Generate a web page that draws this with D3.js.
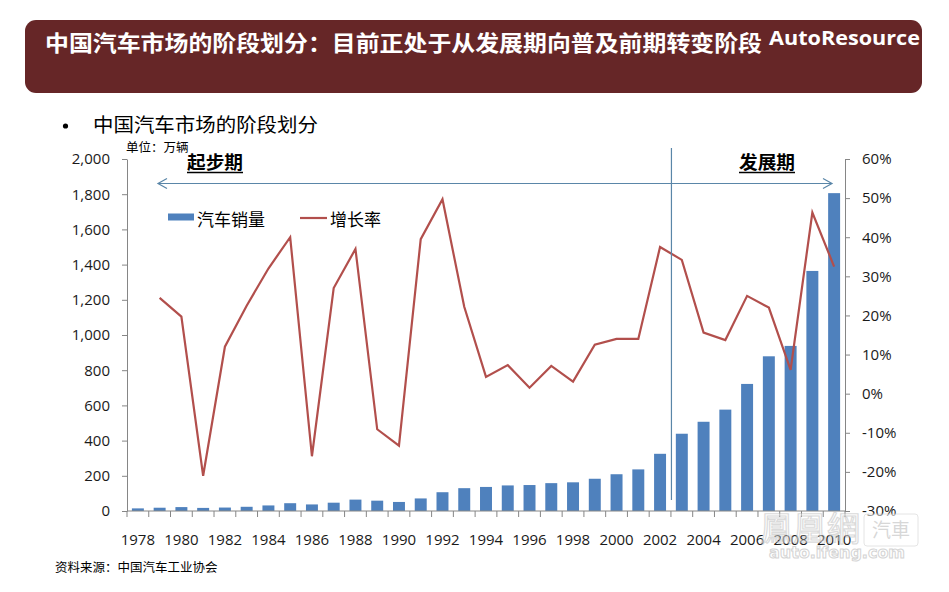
<!DOCTYPE html>
<html>
<head>
<meta charset="utf-8">
<script src="https://cdn.jsdelivr.net/npm/d3@7/dist/d3.min.js"></script>
<style>
  html, body { margin: 0; padding: 0; background: #fff; }
  svg { display: block; }
  text { font-family: "Noto Sans CJK SC", "Noto Sans", sans-serif; }
</style>
</head>
<body>
<svg id="chart" width="949" height="592"></svg>
<script>
// ---- data ----
const years = ["1978","1979","1980","1981","1982","1983","1984","1985","1986","1987","1988","1989","1990","1991","1992","1993","1994","1995","1996","1997","1998","1999","2000","2001","2002","2003","2004","2005","2006","2007","2008","2009","2010"];
const sales = [14.9,18.6,22.2,17.6,19.6,23.9,31.6,44.3,37.3,47.2,64.7,58.7,51.4,71.4,106.7,129.7,136.7,145.3,147.5,158.3,163.0,183.2,208.9,236.4,325.0,439.0,507.0,576.0,722.0,879.0,938.0,1364.0,1806.0];
const growth = [null,24.5,19.7,-21.0,12.0,22.5,32.0,40.0,-16.0,27.0,37.0,-9.1,-13.3,39.5,49.7,22.2,4.3,7.3,1.5,7.1,3.1,12.5,14.0,14.0,37.5,34.2,15.6,13.7,25.0,22.0,6.1,46.3,32.5];
const leftTicks = [0,200,400,600,800,1000,1200,1400,1600,1800,2000];
const rightTicks = [-30,-20,-10,0,10,20,30,40,50,60];
const xLabelYears = ["1978","1980","1982","1984","1986","1988","1990","1992","1994","1996","1998","2000","2002","2004","2006","2008","2010"];
const title = "中国汽车市场的阶段划分：目前正处于从发展期向普及前期转变阶段";
const brand = "AutoResource";
const subtitle = "中国汽车市场的阶段划分";
const unitLabel = "单位：万辆";
const seriesNames = ["汽车销量", "增长率"];
const phaseNames = ["起步期", "发展期"];
const phaseSplit = "2003";
const source = "资料来源：中国汽车工业协会";

// ---- layout ----
const svg = d3.select("#chart");
const L = 127, R = 845, T = 159, B = 511;
const barColor = "#4f81bd", lineColor = "#b24f4c", axisColor = "#868686", arrowColor = "#5a86a8";

// title bar
svg.append("rect").attr("x", 25).attr("y", 20).attr("width", 897).attr("height", 73)
  .attr("rx", 11).attr("fill", "#662627");
svg.append("text").attr("x", 45).attr("y", 51).attr("fill", "#fff")
  .attr("font-size", 22).attr("font-weight", "bold")
  .attr("textLength", 717).attr("lengthAdjust", "spacingAndGlyphs").text(title);
svg.append("text").attr("x", 769).attr("y", 45).attr("fill", "#fff")
  .style("font-family", "'Open Sans', 'Liberation Sans', sans-serif")
  .attr("font-size", 20).attr("font-weight", "bold")
  .attr("textLength", 151).attr("lengthAdjust", "spacingAndGlyphs").text(brand);

// bullet subtitle
svg.append("circle").attr("cx", 65.5).attr("cy", 126).attr("r", 2.6).attr("fill", "#000");
svg.append("text").attr("x", 93).attr("y", 132).attr("font-size", 19)
  .attr("textLength", 225).attr("lengthAdjust", "spacingAndGlyphs").attr("fill", "#000").text(subtitle);

// scales
const x = d3.scaleBand().domain(years).range([L, R]).paddingInner(0.45).paddingOuter(0.225);
const xEdge = d3.scaleBand().domain(years).range([L, R]).padding(0);
const yL = d3.scaleLinear().domain([0, 2000]).range([B, T]);
const yR = d3.scaleLinear().domain([-30, 60]).range([B, T]);

const tickFont = "'Open Sans', 'DejaVu Sans', sans-serif";

// left axis
const gL = svg.append("g").attr("transform", `translate(${L},0)`)
  .call(d3.axisLeft(yL).tickValues(leftTicks).tickSize(5).tickSizeOuter(0).tickPadding(12).tickFormat(d3.format(",")));
// right axis
const gR = svg.append("g").attr("transform", `translate(${R},0)`)
  .call(d3.axisRight(yR).tickValues(rightTicks).tickSize(5).tickSizeOuter(0).tickPadding(12).tickFormat(d => d + "%"));
[gL, gR].forEach(g => {
  g.select(".domain").attr("stroke", axisColor);
  g.selectAll(".tick line").attr("stroke", axisColor);
  g.selectAll(".tick text").attr("fill", "#1a1a1a").attr("font-size", 15).style("font-family", tickFont);
});

// bars
svg.append("g").selectAll("rect").data(years).join("rect")
  .attr("x", d => x(d)).attr("width", x.bandwidth())
  .attr("y", (d, i) => yL(sales[i])).attr("height", (d, i) => B - yL(sales[i]))
  .attr("fill", barColor);

// x axis
const gX = svg.append("g").attr("transform", `translate(0,${B})`);
gX.append("line").attr("x1", L).attr("x2", R).attr("stroke", axisColor);
gX.selectAll("line.tk").data(years.concat(["end"])).join("line").attr("class", "tk")
  .attr("x1", (d, i) => i < years.length ? xEdge(d) : R)
  .attr("x2", (d, i) => i < years.length ? xEdge(d) : R)
  .attr("y1", 0).attr("y2", 6).attr("stroke", axisColor);
gX.selectAll("text").data(xLabelYears).join("text")
  .attr("x", d => x(d) + x.bandwidth() / 2).attr("y", 34)
  .attr("text-anchor", "middle").attr("font-size", 15).attr("fill", "#1a1a1a")
  .style("font-family", tickFont).text(d => d);

// growth line
const line = d3.line()
  .defined(d => d.v !== null)
  .x(d => x(d.y) + x.bandwidth() / 2)
  .y(d => yR(d.v));
svg.append("path").datum(years.map((y, i) => ({ y, v: growth[i] })))
  .attr("d", line).attr("fill", "none").attr("stroke", lineColor).attr("stroke-width", 2.2)
  .attr("stroke-linejoin", "miter");

// phase divider
const splitX = xEdge(phaseSplit) + 0.5;
svg.append("line").attr("x1", splitX).attr("x2", splitX).attr("y1", 148).attr("y2", 500)
  .attr("stroke", arrowColor).attr("stroke-width", 1.2);

// double arrow
const ax1 = 158, ax2 = 832, ay = 183.5;
svg.append("line").attr("x1", ax1).attr("x2", ax2).attr("y1", ay).attr("y2", ay)
  .attr("stroke", arrowColor).attr("stroke-width", 1.2);
svg.append("path").attr("d", `M${ax1 + 9},${ay - 5} L${ax1},${ay} L${ax1 + 9},${ay + 5}`)
  .attr("fill", "none").attr("stroke", arrowColor).attr("stroke-width", 1.2);
svg.append("path").attr("d", `M${ax2 - 9},${ay - 5} L${ax2},${ay} L${ax2 - 9},${ay + 5}`)
  .attr("fill", "none").attr("stroke", arrowColor).attr("stroke-width", 1.2);

// phase labels (bold underlined)
[[187, phaseNames[0]], [739, phaseNames[1]]].forEach(([px, t]) => {
  svg.append("text").attr("x", px).attr("y", 169).attr("font-size", 18).attr("font-weight", "bold")
    .attr("fill", "#000").attr("textLength", 56).attr("lengthAdjust", "spacingAndGlyphs").text(t);
  svg.append("line").attr("x1", px).attr("x2", px + 56).attr("y1", 172.5).attr("y2", 172.5)
    .attr("stroke", "#000").attr("stroke-width", 1.3);
});

// unit label
svg.append("text").attr("x", 126).attr("y", 152).attr("font-size", 12.5).attr("fill", "#000").text(unitLabel);

// legend
svg.append("rect").attr("x", 168).attr("y", 213.5).attr("width", 26).attr("height", 7).attr("fill", barColor);
svg.append("text").attr("x", 197).attr("y", 226).attr("font-size", 17).attr("fill", "#000").text(seriesNames[0]);
svg.append("line").attr("x1", 300).attr("x2", 327).attr("y1", 218).attr("y2", 218)
  .attr("stroke", lineColor).attr("stroke-width", 2.2);
svg.append("text").attr("x", 330).attr("y", 226).attr("font-size", 17).attr("fill", "#000").text(seriesNames[1]);

// source
svg.append("text").attr("x", 55).attr("y", 572).attr("font-size", 12.5).attr("fill", "#000").text(source);

// watermark
const wm = svg.append("g").attr("opacity", 0.55);
wm.append("text").attr("x", 760).attr("y", 541).attr("font-size", 34)
  .attr("fill", "#fff").attr("stroke", "#bdbdbd").attr("stroke-width", 1.2)
  .attr("textLength", 100).attr("lengthAdjust", "spacingAndGlyphs").text("鳳凰網");
wm.append("rect").attr("x", 864).attr("y", 514).attr("width", 54).attr("height", 32).attr("rx", 3)
  .attr("fill", "#fff").attr("stroke", "#d0d0d0");
wm.append("text").attr("x", 891).attr("y", 537).attr("text-anchor", "middle").attr("font-size", 19)
  .attr("fill", "#b8b8b8").text("汽車");
wm.append("text").attr("x", 769).attr("y", 558).attr("font-size", 16).attr("font-weight", "bold")
  .style("font-family", "'DejaVu Sans', sans-serif")
  .attr("fill", "#fff").attr("stroke", "#b0b0b0").attr("stroke-width", 1)
  .attr("textLength", 136).attr("lengthAdjust", "spacingAndGlyphs").text("auto.ifeng.com");
</script>
</body>
</html>
